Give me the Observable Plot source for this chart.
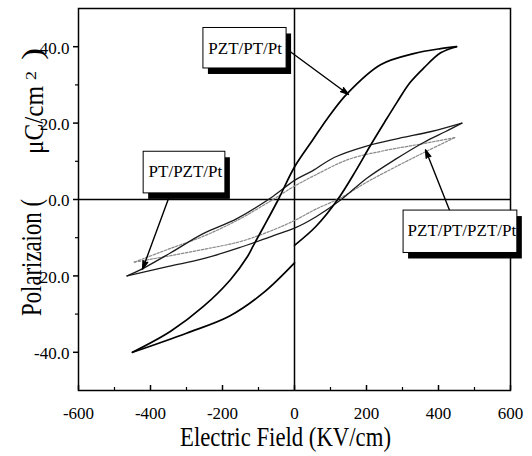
<!DOCTYPE html>
<html><head><meta charset="utf-8">
<script src="https://cdn.jsdelivr.net/npm/d3@7"></script>
<script src="https://cdn.jsdelivr.net/npm/@observablehq/plot@0.6"></script>
<style>
html,body{margin:0;padding:0;background:#fff;}
svg{display:block;}
</style>
</head><body><div id="chart"></div>
<script>
// ---- axis ticks ----
const xTicks = [-600, -400, -200, 0, 200, 400, 600];
const xMinor = [-500, -300, -100, 100, 300, 500];
const yTicks = [-40, -20, 0, 20, 40];
const yMinor = [-30, -10, 10, 30];

// ---- series names ----
const seriesNames = ["PZT/PT/Pt", "PT/PZT/Pt", "PZT/PT/PZT/Pt"];

// ---- PZT/PT/Pt loop (measurement order, starts and ends at E = 0) ----
const bigE = [0, 60, 120, 170, 210, 250, 285, 320, 360, 406, 450, 406, 331, 239, 147, 92, 50, 0, -45, -86, -114, -131, -178, -253, -344, -450, -300, -180, -86, 0];
const bigP = [-12, -7, 0, 7.5, 14, 20.2, 25.5, 30.5, 34.5, 38.4, 40, 39.5, 38.2, 35.3, 27.8, 21.3, 15.5, 8.5, 0, -7.2, -12, -15, -21, -28, -34.5, -40, -35, -30.5, -24.4, -16.6];
const bigBranch = [0, 0, 0, 0, 0, 0, 0, 0, 0, 0, 0, 1, 1, 1, 1, 1, 1, 1, 1, 1, 1, 1, 1, 1, 1, 1, 2, 2, 2, 2];

// ---- PT/PZT/Pt loop ----
const smallE = [465, 380, 290, 200, 110, 50, 0, -60, -160, -255, -345, -430, -465, -350, -253, -150, -60, 0, 60, 130, 200, 280, 360, 420, 465];
const smallP = [20, 17.8, 16, 14, 11, 7.5, 5, 0.8, -5, -9, -14, -18.5, -20, -17.5, -15.5, -12.5, -9.5, -7.5, -4.5, 0, 5.5, 10.5, 15, 17.8, 20];
const smallBranch = [0, 0, 0, 0, 0, 0, 0, 0, 0, 0, 0, 0, 0, 1, 1, 1, 1, 1, 1, 1, 1, 1, 1, 1, 1];

// ---- PZT/PT/PZT/Pt loop ----
const dotE = [445, 350, 250, 150, 60, 0, -60, -150, -250, -350, -445, -350, -250, -150, -60, 0, 60, 130, 200, 280, 364, 445];
const dotP = [16.2, 14.5, 12.8, 10.5, 6.5, 3.5, 0, -5, -9.5, -13, -16.4, -14.8, -13, -11, -8, -5.5, -2.5, 0.5, 4.5, 8.5, 12.5, 16.2];
const dotBranch = [0, 0, 0, 0, 0, 0, 0, 0, 0, 0, 0, 1, 1, 1, 1, 1, 1, 1, 1, 1, 1, 1];

// ---- annotation placement (data units) ----
const labelX = [-137, -303, 465];
const labelY = [39.4, 7.3, -8.2];
const boxX1 = [-253, -419, 303];
const boxX2 = [-22, -192, 619];
const boxY1 = [34.3, 1.6, -14];
const boxY2 = [44.9, 12.5, -2.9];
const arrowX1 = [-19, -345, 431];
const arrowY1 = [39.2, 1.5, -2.9];
const arrowX2 = [150, -422, 364];
const arrowY2 = [27.5, -18.2, 13];

// pick an installed serif face (Times-like preferred)
function pickFont(cands) {
  const ctx = document.createElement("canvas").getContext("2d");
  const s = "PolarizaionElectricField0123456789";
  const w = f => { ctx.font = "40px " + f; return ctx.measureText(s).width; };
  const wm = w("monospace"), ws = w("sans-serif");
  for (const c of cands) {
    if (w(`"${c}", monospace`) !== wm && w(`"${c}", sans-serif`) !== ws) return `"${c}"`;
  }
  return "serif";
}
const FONT = pickFont(["Liberation Serif", "Tinos", "Times New Roman", "Nimbus Roman", "FreeSerif", "DejaVu Serif", "Noto Serif"]) + ", serif";

function toPts(E, P, B, name) {
  const out = [];
  E.forEach((e, i) => {
    out.push({E: e, P: P[i], z: name + B[i]});
    if (i + 1 < E.length && B[i + 1] !== B[i]) out.push({E: e, P: P[i], z: name + B[i + 1]});
  });
  return out;
}
const big = toPts(bigE, bigP, bigBranch, seriesNames[0]);
const small = toPts(smallE, smallP, smallBranch, seriesNames[1]);
const dotted = toPts(dotE, dotP, dotBranch, seriesNames[2]);
const notes = seriesNames.map((s, i) => ({
  label: s, lx: labelX[i], ly: labelY[i],
  bx1: boxX1[i], bx2: boxX2[i], by1: boxY1[i], by2: boxY2[i],
  ax1: arrowX1[i], ay1: arrowY1[i], ax2: arrowX2[i], ay2: arrowY2[i]
}));

const plot = Plot.plot({
  width: 532, height: 456,
  marginLeft: 78, marginRight: 22, marginTop: 8, marginBottom: 66,
  x: {domain: [-600, 600], label: null},
  y: {domain: [-50, 50], label: null},
  style: {fontFamily: FONT, background: "#fff", color: "#000", overflow: "visible"},
  marks: [
    Plot.ruleX([0], {stroke: "#000", strokeWidth: 1.5}),
    Plot.ruleY([0], {stroke: "#000", strokeWidth: 1.5}),
    Plot.line(dotted, {x: "E", y: "P", z: "z", stroke: "#8a8a8a", strokeWidth: 1.2, strokeDasharray: "2.5,1.5", curve: "catmull-rom"}),
    Plot.line(small, {x: "E", y: "P", z: "z", stroke: "#1a1a1a", strokeWidth: 1.3, curve: "catmull-rom"}),
    Plot.line(big, {x: "E", y: "P", z: "z", stroke: "#000", strokeWidth: 1.7, curve: "catmull-rom"}),
    Plot.frame({stroke: "#000", strokeWidth: 1.5}),
    Plot.axisX(xTicks, {tickSize: -5, tickFormat: () => "", strokeWidth: 1.5, label: null}),
    Plot.axisX(xMinor, {tickSize: -3, tickFormat: () => "", strokeWidth: 1.2, label: null}),
    Plot.axisX(xTicks, {tickSize: 0, tickPadding: 16, tickFormat: d => String(d), fontSize: 17, label: null, ariaLabel: "x-axis labels"}),
    Plot.axisY(yTicks, {tickSize: 5, tickFormat: () => "", strokeWidth: 1.5, label: null}),
    Plot.axisY(yMinor, {tickSize: 3, tickFormat: () => "", strokeWidth: 1.2, label: null}),
    Plot.axisY(yTicks, {tickSize: 0, tickPadding: 9, dy: 1.5, tickFormat: d => d.toFixed(1), fontSize: 17, label: null, ariaLabel: "y-axis labels"}),
    Plot.arrow(notes, {x1: "ax1", y1: "ay1", x2: "ax2", y2: "ay2", stroke: "#000", fill: "#000", strokeWidth: 1.4, headLength: 9, headAngle: 34}),
    Plot.rect(notes, {x1: "bx1", x2: "bx2", y1: "by1", y2: "by2", fill: "#000", dx: 5, dy: 6}),
    Plot.rect(notes, {x1: "bx1", x2: "bx2", y1: "by1", y2: "by2", fill: "#fff", stroke: "#000", strokeWidth: 1}),
    Plot.text(notes, {x: "lx", y: "ly", text: "label", fontSize: 17, fill: "#000", ariaLabel: "series label"})
  ]
});

document.getElementById("chart").append(plot);

// condense text to mimic the narrow typeface of the original
function condense(sel, factor) {
  plot.querySelectorAll(sel).forEach(t => {
    t.style.fontFamily = FONT;
    const w = t.getComputedTextLength();
    t.setAttribute("textLength", (w * factor).toFixed(1));
    t.setAttribute("lengthAdjust", "spacingAndGlyphs");
  });
}
condense('g[aria-label="x-axis labels"] text', 0.8);
condense('g[aria-label="y-axis labels"] text', 0.78);
condense('g[aria-label="series label"] text', 0.88);

// axis titles
const svg = d3.select(plot);
function addText(str, x, y, size, len, rotate) {
  const t = svg.append("text")
    .attr("transform", `translate(${x},${y})` + (rotate ? " rotate(-90)" : ""))
    .style("font-family", FONT)
    .attr("font-size", size)
    .attr("fill", "#000")
    .attr("text-anchor", "start")
    .text(str);
  if (len) t.attr("textLength", len).attr("lengthAdjust", "spacingAndGlyphs");
  return t;
}
addText("Electric Field (KV/cm)", 180, 446, 27, 211, false);
addText("Polarizaion (", 41, 316, 30, 117, true);
addText("μC/cm", 43, 154, 27, 68, true);
addText("2", 36, 80, 15, 9, true);
addText(")", 42, 60, 30, 12, true);
</script>
</body></html>
